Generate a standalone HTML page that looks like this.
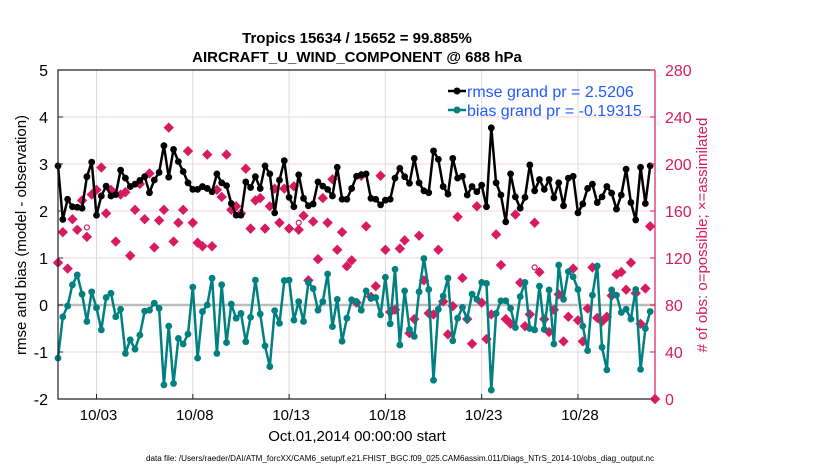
<!DOCTYPE html>
<html><head><meta charset="utf-8">
<style>
html,body{margin:0;padding:0;background:#fff;}
svg{display:block;font-family:"Liberation Sans",Arial,sans-serif;}
</style></head>
<body>
<svg id="chart" width="830" height="470" viewBox="0 0 830 470" xmlns="http://www.w3.org/2000/svg">
  <text x="357" y="43" text-anchor="middle" font-size="15" font-weight="bold">Tropics 15634 / 15652 = 99.885%</text>
  <text x="357" y="62" text-anchor="middle" font-size="15" font-weight="bold">AIRCRAFT_U_WIND_COMPONENT @ 688 hPa</text>
  <g id="grid"></g>
  <g id="marks"></g>
  <g id="axes"></g>
  <text transform="translate(26,235) rotate(-90)" text-anchor="middle" font-size="15">rmse and bias (model - observation)</text>
  <text transform="translate(707,235) rotate(-90)" text-anchor="middle" font-size="15" fill="#d81b60"># of obs: o=possible; ×=assimilated</text>
  <text x="357" y="441" text-anchor="middle" font-size="15">Oct.01,2014 00:00:00 start</text>
  <text x="400" y="461" text-anchor="middle" font-size="8" textLength="508" lengthAdjust="spacingAndGlyphs">data file: /Users/raeder/DAI/ATM_forcXX/CAM6_setup/f.e21.FHIST_BGC.f09_025.CAM6assim.011/Diags_NTrS_2014-10/obs_diag_output.nc</text>
  <g>
    <line x1="448" y1="91" x2="466" y2="91" stroke="#000" stroke-width="2.5"/>
    <circle cx="457" cy="91" r="3.5" fill="#000"/>
    <text x="467" y="97" font-size="16" fill="#1f5cff">rmse grand pr = 2.5206</text>
    <line x1="448" y1="110" x2="466" y2="110" stroke="#008080" stroke-width="2.5"/>
    <circle cx="457" cy="110" r="3.5" fill="#008080"/>
    <text x="467" y="116" font-size="16" fill="#1f5cff">bias grand pr = -0.19315</text>
  </g>
</svg>
<script>
const rmse = [2.96,1.82,2.25,2.09,2.08,2.06,2.73,3.04,1.91,2.32,2.53,2.32,2.35,2.87,2.70,2.52,2.57,2.65,2.73,2.39,2.66,2.82,3.39,2.72,3.31,3.05,2.84,2.60,2.46,2.46,2.52,2.48,2.41,2.79,2.60,2.54,2.16,1.91,1.91,2.62,2.50,2.73,2.48,2.96,2.79,1.96,2.66,3.07,2.29,2.09,2.77,2.27,2.11,2.15,2.62,2.53,2.46,2.32,2.93,2.25,2.25,2.48,2.74,2.77,2.79,2.27,2.25,2.13,2.23,2.25,2.70,2.91,2.73,2.59,3.12,2.60,2.43,2.39,3.28,3.10,2.52,2.36,3.12,2.70,2.74,2.34,2.52,2.41,2.55,2.09,3.77,2.60,2.34,1.77,2.79,2.30,2.06,2.29,2.98,2.43,2.67,2.46,2.67,2.28,2.60,2.11,2.70,2.74,1.96,2.15,2.48,2.57,2.18,2.30,2.52,2.38,2.04,2.34,2.89,2.18,1.81,2.93,2.16,2.96];
const bias = [-1.13,-0.25,-0.02,0.43,0.64,0.23,-0.35,0.28,-0.06,-0.53,0.16,0.25,-0.25,-0.09,-1.03,-0.74,-0.94,-0.64,-0.13,-0.11,0.04,-0.07,-1.70,-0.45,-1.67,-0.71,-0.83,-0.62,0.38,-1.13,-0.14,0.00,0.57,-1.03,0.43,-0.80,0.02,-0.28,-0.18,-0.78,-0.26,0.53,-0.19,-0.87,-1.31,-0.12,-0.39,0.52,0.53,-0.32,0.07,-0.35,0.48,0.35,-0.11,0.07,0.66,-0.46,0.12,-0.77,-0.28,0.11,0.07,-0.11,0.30,0.14,0.16,-0.21,0.59,-0.40,0.76,-0.85,0.30,-0.52,-0.67,0.28,0.99,0.33,-1.60,-0.09,0.19,0.57,-0.76,-0.28,-0.05,-0.30,0.23,0.12,0.48,0.46,-1.81,-0.18,0.09,0.09,-0.07,-0.48,0.18,0.48,-0.50,-0.53,0.40,-0.52,0.32,-0.83,0.85,0.12,0.71,0.60,0.33,-0.45,-0.97,0.21,0.83,-0.90,-1.38,0.32,0.21,-0.16,-0.09,-0.30,0.33,-1.37,-0.50,-0.14];
const assimilated = [116,142,111,153,144,169,138,174,178,197,158,178,134,174,176,122,161,183,153,192,129,152,161,231,134,150,161,211,150,133,130,208,130,178,172,208,161,164,158,196,145,169,171,145,164,179,150,179,145,181,144,156,101,151,119,171,150,187,127,142,113,118,82,190,147,87,96,190,127,74,76,128,135,56,68,139,101,73,72,127,83,55,79,155,103,68,47,164,82,51,72,140,114,68,64,157,99,62,72,150,108,68,57,76,89,49,70,111,67,49,77,112,69,66,70,88,106,108,93,116,90,64,94,147,0];
const possibleOnly = [[6,146],[50,150],[99,112]];
const xTicks = [2,7,12,17,22,27];
const xTickLabels = ["10/03","10/08","10/13","10/18","10/23","10/28"];
const yTicks = [-2,-1,0,1,2,3,4,5];
const y2Ticks = [0,40,80,120,160,200,240,280];

const L=58, R=655, T=70, B=399;
const dayW = (R-L)/31;
const xBin = i => L + i*dayW/4;
const xDay = d => L + d*dayW;
const yV = v => B - (v+2)*(B-T)/7;
const yC = c => B - c*(B-T)/280;
const NS="http://www.w3.org/2000/svg";
function mk(tag, parent, attrs){const e=document.createElementNS(NS,tag);for(const k in attrs)e.setAttribute(k,attrs[k]);parent.appendChild(e);return e;}
const grid=document.getElementById('grid'), marks=document.getElementById('marks'), axes=document.getElementById('axes');

yTicks.forEach(v=>{
  if(v===-2||v===5) return;
  const g=mk('line',grid,{x1:L,x2:R,y1:yV(v),y2:yV(v),stroke:v===0?'#bdbdbd':'#f2d3df','stroke-width':v===0?2.5:1});
  
  
});
xTicks.forEach(d=>{
  const g=mk('line',grid,{x1:xDay(d),x2:xDay(d),y1:T,y2:B,stroke:'#dcdcdc','stroke-width':1});
  
  
});

assimilated.forEach((c,i)=>{
  const x=xBin(i), y=yC(c), s=5.2;
  const p=mk('path',marks,{d:`M${x-s},${y}L${x},${y-s}L${x+s},${y}L${x},${y+s}Z`,fill:'#d81b60'});
  
  
});
possibleOnly.forEach(([i,c])=>{
  const p=mk('circle',marks,{cx:xBin(i),cy:yC(c),r:2.5,fill:'none',stroke:'#d81b60','stroke-width':1.2});
  
  
});

function series(vals,color,name){
  const pts=vals.map((v,i)=>`${xBin(i).toFixed(1)},${yV(v).toFixed(1)}`).join(' ');
  const pl=mk('polyline',marks,{points:pts,fill:'none',stroke:color,'stroke-width':2.5,'stroke-linejoin':'round'});
  
  
  vals.forEach((v,i)=>{
    const c=mk('circle',marks,{cx:xBin(i),cy:yV(v),r:3.4,fill:color});
    
    
  });
}
series(bias,'#008080','bias');
series(rmse,'#000000','rmse');

let a=mk('path',axes,{d:`M${R},${T}L${L},${T}L${L},${B}L${R},${B}`,fill:'none',stroke:'#222','stroke-width':1.2});


a=mk('line',axes,{x1:R,x2:R,y1:T,y2:B,stroke:'#d81b60','stroke-width':1.2});



yTicks.forEach(v=>{
  const t=mk('text',axes,{x:L-10,y:yV(v)+6,'text-anchor':'end','font-size':16});
  t.textContent=v;
  
  
  mk('line',axes,{x1:L,x2:L+5,y1:yV(v),y2:yV(v),stroke:'#222'});
});
y2Ticks.forEach(c=>{
  const t=mk('text',axes,{x:R+10,y:yC(c)+6,'font-size':16,fill:'#d81b60'});
  t.textContent=c;
  
  
  mk('line',axes,{x1:R-5,x2:R,y1:yC(c),y2:yC(c),stroke:'#d81b60'});
});
xTicks.forEach((d,k)=>{
  mk('line',axes,{x1:xDay(d),x2:xDay(d),y1:B-5,y2:B,stroke:'#222'});
  const t=mk('text',axes,{x:xDay(d)+2,y:B+21,'text-anchor':'middle','font-size':15});
  t.textContent=xTickLabels[k];
  
  
});
</script>
</body></html>
